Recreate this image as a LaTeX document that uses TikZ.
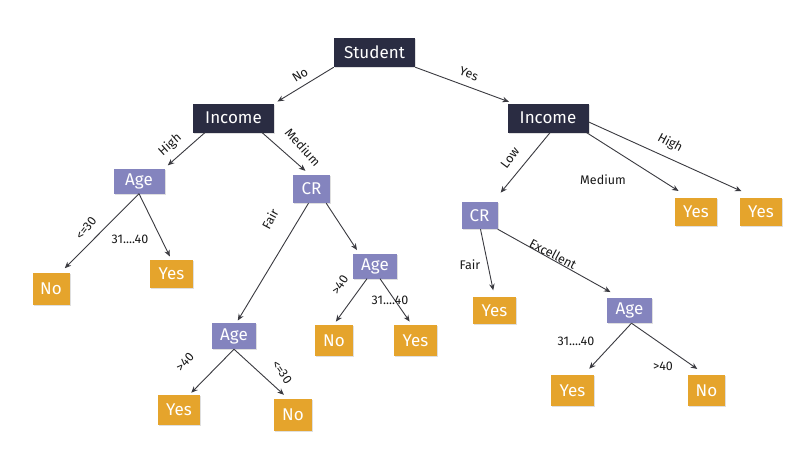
\documentclass[tikz,border=0pt]{standalone}
\usepackage{fontspec}
\setmainfont{Fira Sans}
\usetikzlibrary{arrows.meta,calc,shadows}
\definecolor{navy}{RGB}{42,44,66}
\definecolor{lav}{RGB}{132,132,190}
\definecolor{gold}{RGB}{229,164,44}
\definecolor{edgec}{RGB}{58,58,64}
\begin{document}
\begin{tikzpicture}[x=1pt,y=-1pt,
 box/.style={inner sep=0pt, anchor=center, text=white, font=\fontsize{17}{17}\selectfont,
   drop shadow={opacity=0.25, shadow xshift=1pt, shadow yshift=-1pt}},
 rootbox/.style={box, fill=navy, minimum width=81pt, minimum height=29pt},
 attrbox/.style={box, fill=lav},
 leafbox/.style={box, fill=gold},
 conn/.style={draw=edgec, line width=0.9pt, -{Stealth[length=6.5pt,width=5.5pt]}, shorten >=1.5pt},
 lbl/.style={font=\fontsize{12.5}{12.5}\selectfont, text=black!90, inner sep=0.5pt}]
\useasboundingbox (0,0) rectangle (802,450);
\fill[white] (0,0) rectangle (802,450);

% nodes
\node[rootbox] (stu) at (374.5,52.5) {Student};
\node[rootbox] (incL) at (233.5,118) {Income};
\node[rootbox] (incR) at (548,118) {Income};

\node[attrbox, minimum width=51pt, minimum height=25pt] (ageL) at (139,181) {Age};
\node[attrbox, minimum width=37pt, minimum height=28pt] (crL) at (311.5,189) {CR};
\node[attrbox, minimum width=44pt, minimum height=26pt] (ageLow) at (234,336) {Age};
\node[attrbox, minimum width=44pt, minimum height=25pt] (ageMid) at (375,266) {Age};
\node[attrbox, minimum width=36pt, minimum height=27pt] (crR) at (479.5,215.5) {CR};
\node[attrbox, minimum width=45pt, minimum height=25pt] (ageR) at (629.5,310.5) {Age};

\node[leafbox, minimum width=37pt, minimum height=32pt] (no1) at (51,288.5) {No};
\node[leafbox, minimum width=43pt, minimum height=28pt] (yes1) at (171.5,274) {Yes};
\node[leafbox, minimum width=38pt, minimum height=31pt] (noMid) at (334,340.5) {No};
\node[leafbox, minimum width=43pt, minimum height=31pt] (yesMid) at (415.5,340.5) {Yes};
\node[leafbox, minimum width=42pt, minimum height=30pt] (yesLow) at (179,410) {Yes};
\node[leafbox, minimum width=38pt, minimum height=32pt] (noLow) at (293,415) {No};
\node[leafbox, minimum width=42pt, minimum height=28pt] (yesMed) at (696,212) {Yes};
\node[leafbox, minimum width=42pt, minimum height=28pt] (yesH) at (761,212) {Yes};
\node[leafbox, minimum width=43pt, minimum height=27pt] (yesFair) at (494.5,310.5) {Yes};
\node[leafbox, minimum width=43pt, minimum height=31pt] (yesR) at (572.5,390.5) {Yes};
\node[leafbox, minimum width=37pt, minimum height=31pt] (noR) at (706.5,390.5) {No};

% connectors
\draw[conn] (stu.south west) -- ($(incL.north east)+(2,-1)$);
\draw[conn] (stu.south east) -- ($(incR.north west)+(3,-1)$);
\draw[conn] ($(incL.south west)+(12,0)$) -- ($(ageL.north east)+(2,-2)$);
\draw[conn] ($(incL.south east)+(-12,0)$) -- ($(crL.north)+(-5,-3)$);
\draw[conn] (ageL.south) -- ($(no1.north east)+(-6,-3)$);
\draw[conn] (ageL.south) -- ($(yes1.north)+(-1,-2)$);
\draw[conn] ($(crL.south)+(-3,0)$) -- ($(ageLow.north)+(3,-1)$);
\draw[conn] ($(crL.south east)+(-4,0)$) -- ($(ageMid.north west)+(5,-2)$);
\draw[conn] ($(ageMid.south)+(-8,0)$) -- ($(noMid.north)+(1,-2)$);
\draw[conn] ($(ageMid.south)+(5,0)$) -- ($(yesMid.north)+(-5,-2)$);
\draw[conn] (ageLow.south) -- ($(yesLow.north east)+(-10,-1)$);
\draw[conn] (ageLow.south) -- ($(noLow.north)+(-8,-3)$);
\draw[conn] ($(incR.south)+(2,0)$) -- ($(crR.north east)+(2,-8)$);
\draw[conn] ($(incR.south east)+(-2,0)$) -- ($(yesMed.north west)+(5,-6)$);
\draw[conn] ($(incR.east)+(0,4)$) -- ($(yesH.north west)+(3,-6)$);
\draw[conn] ($(crR.south)+(1,0)$) -- ($(yesFair.north)+(-1,-5)$);
\draw[conn] (crR.south east) -- ($(ageR.north west)+(5,-5)$);
\draw[conn] ($(ageR.south)+(2,0)$) -- ($(yesR.north east)+(-6,-5)$);
\draw[conn] ($(ageR.south)+(2,0)$) -- ($(noR.north)+(-8,-5)$);

% labels
\node[lbl, rotate=32] (lNo) at (300,75) {No};
\node[lbl, rotate=-20] (lYes) at (469,74) {Yes};
\node[lbl, rotate=42] (lHighL) at (170,145) {High};
\node[lbl, rotate=-48] (lMedL) at (303,147) {Medium};
\node[lbl, rotate=52] (lLe30a) at (86,228) {<=30};
\node[lbl] (l3140a) at (130,239) {31....40};
\node[lbl, rotate=62] (lFairL) at (270,219) {Fair};
\node[lbl, rotate=57] (lGt40m) at (340,285) {>40};
\node[lbl] (l3140m) at (390,300) {31....40};
\node[lbl, rotate=48] (lGt40l) at (185,362) {>40};
\node[lbl, rotate=-55] (lLe30l) at (282,372) {<=30};
\node[lbl, rotate=53] (lLow) at (510,158) {Low};
\node[lbl] (lMedR) at (603,180) {Medium};
\node[lbl, rotate=-28] (lHighR) at (670,143) {High};
\node[lbl] (lFairR) at (470,265) {Fair};
\node[lbl, rotate=-28] (lExc) at (553,254) {Excellent};
\node[lbl] (l3140r) at (576,341) {31....40};
\node[lbl] (lGt40r) at (663,366) {>40};
\end{tikzpicture}
\end{document}
